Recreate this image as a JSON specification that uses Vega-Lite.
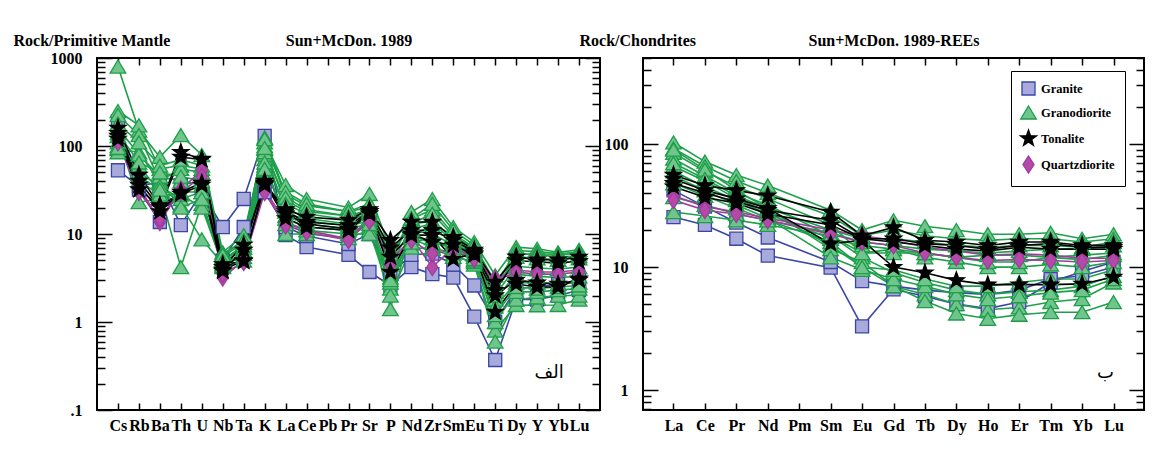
{
"$schema":"https://vega.github.io/schema/vega-lite/v6.json",
"background":"white",
"padding":{"left":12,"top":31,"right":5,"bottom":5},
"bounds":"flush",
"spacing":43,
"config":{
 "view":{"stroke":"black","strokeWidth":2},
 "font":"Liberation Serif",
 "axis":{"domain":false,"grid":false,"tickColor":"black","tickWidth":1.5,"labelFont":"Liberation Serif","labelFontWeight":"bold","labelFontSize":16,"labelColor":"black","titleFont":"Liberation Serif","titleFontWeight":"bold","titleFontSize":16,"titleColor":"black"},
 "legend":{"strokeColor":"black","padding":10,"labelFont":"Liberation Serif","labelFontWeight":"bold","labelFontSize":12.5,"labelColor":"black","symbolSize":170,"symbolStrokeWidth":1.3,"rowPadding":5,"labelOffset":5}
},
"resolve":{"scale":{"x":"independent","y":"independent","color":"independent","stroke":"independent","fill":"independent","shape":"independent"}},
"hconcat":[
{
 "width":503,"height":352,
 "data":{"name":"pm"},
 "layer":[
  {"mark":{"type":"line","strokeWidth":1.6},
   "encoding":{
    "x":{"field":"e","type":"nominal","sort":["Cs","Rb","Ba","Th","U","Nb","Ta","K","La","Ce","Pb","Pr","Sr","P","Nd","Zr","Sm","Eu","Ti","Dy","Y","Yb","Lu"],
         "scale":{"type":"point","domain":["Cs","Rb","Ba","Th","U","Nb","Ta","K","La","Ce","Pb","Pr","Sr","P","Nd","Zr","Sm","Eu","Ti","Dy","Y","Yb","Lu"],"padding":1.04},
         "axis":{"orient":"bottom","tickSize":-7,"labelPadding":14,"labelAngle":0,"labelOverlap":false,"title":null}},
    "y":{"field":"v","type":"quantitative","scale":{"type":"log","domain":[0.1,1000],"nice":false},
         "axis":{"orient":"left","values":[0.1,0.2,0.3,0.4,0.5,0.6,0.7,0.8,0.9,1,2,3,4,5,6,7,8,9,10,20,30,40,50,60,70,80,90,100,200,300,400,500,600,700,800,900,1000],
                 "tickSize":{"condition":{"test":"datum.value==0.1||datum.value==1||datum.value==10||datum.value==100||datum.value==1000","value":-15},"value":-8},
                 "labelExpr":"datum.value==1000?'1000':datum.value==100?'100':datum.value==10?'10':datum.value==1?'1':datum.value==0.1?'.1':''",
                 "labelPadding":30,"labelBaseline":"middle",
                 "title":"Rock/Primitive Mantle","titleAngle":0,"titleAlign":"left","titleBaseline":"alphabetic","titleX":-84,"titleY":-13}},
    "color":{"field":"t","type":"nominal","scale":{"domain":["Granodiorite","Granite","Tonalite","Quartzdiorite"],"range":["#1EA04A","#3A45A5","#000000","#A23B9E"]},"legend":null},
    "detail":{"field":"s"}
   }},
  {"mark":{"type":"point","filled":true,"opacity":1,"strokeWidth":1.3,"size":170},
   "encoding":{
    "x":{"field":"e","type":"nominal","axis":{"orient":"top","tickSize":-7,"labels":false,"title":"Sun+McDon. 1989","titleAngle":0,"titleAlign":"center","titleBaseline":"alphabetic","titleX":251.5,"titleY":-13}},
    "y":{"field":"v","type":"quantitative",
         "axis":{"orient":"right","values":[0.1,0.2,0.3,0.4,0.5,0.6,0.7,0.8,0.9,1,2,3,4,5,6,7,8,9,10,20,30,40,50,60,70,80,90,100,200,300,400,500,600,700,800,900,1000],
                 "tickSize":{"condition":{"test":"datum.value==0.1||datum.value==1||datum.value==10||datum.value==100||datum.value==1000","value":-15},"value":-8},
                 "labels":false,"title":null}},
    "shape":{"field":"t","type":"nominal","scale":{"domain":["Granite","Granodiorite","Tonalite","Quartzdiorite"],"range":["square","M0,-1L1.2,1L-1.2,1Z","M0,-1.3L0.31,-0.43L1.236,-0.402L0.5,0.163L0.764,1.052L0,0.53L-0.764,1.052L-0.5,0.163L-1.236,-0.402L-0.31,-0.43Z","M0,-1.3L0.85,0L0,1.3L-0.85,0Z"]},"legend":null},
    "fill":{"field":"t","type":"nominal","scale":{"domain":["Granite","Granodiorite","Tonalite","Quartzdiorite"],"range":["#A7AADB","#6FC58C","#000000","#B34AAA"]},"legend":null},
    "stroke":{"field":"t","type":"nominal","scale":{"domain":["Granite","Granodiorite","Tonalite","Quartzdiorite"],"range":["#3A45A5","#1E9E48","#000000","#A23B9E"]},"legend":null}
   }},
  {"data":{"name":"ann"},"transform":[{"filter":"datum.p=='L'"}],
   "mark":{"type":"text","font":"DejaVu Sans","fontSize":18,"dx":-9,"color":"black"},
   "encoding":{"x":{"field":"e","type":"nominal","axis":null},"y":{"field":"v","type":"quantitative","axis":null},"text":{"field":"txt"}}}
 ],
 "resolve":{"axis":{"x":"independent","y":"independent"}}
},
{
 "width":501,"height":352,
 "data":{"name":"ree"},
 "layer":[
  {"mark":{"type":"line","strokeWidth":1.6},
   "encoding":{
    "x":{"field":"e","type":"nominal","sort":["La","Ce","Pr","Nd","Pm","Sm","Eu","Gd","Tb","Dy","Ho","Er","Tm","Yb","Lu"],
         "scale":{"type":"point","domain":["La","Ce","Pr","Nd","Pm","Sm","Eu","Gd","Tb","Dy","Ho","Er","Tm","Yb","Lu"],"padding":0.97},
         "axis":{"orient":"bottom","tickSize":-7,"labelPadding":14,"labelAngle":0,"labelOverlap":false,"title":null}},
    "y":{"field":"v","type":"quantitative","scale":{"type":"log","domain":[0.69,500],"nice":false},
         "axis":{"orient":"left","values":[0.7,0.8,0.9,1,2,3,4,5,6,7,8,9,10,20,30,40,50,60,70,80,90,100,200,300,400,500],
                 "tickSize":{"condition":{"test":"datum.value==1||datum.value==10||datum.value==100","value":-15},"value":-8},
                 "labelExpr":"datum.value==100?'100':datum.value==10?'10':datum.value==1?'1':''",
                 "labelPadding":30,"labelBaseline":"middle",
                 "title":"Rock/Chondrites","titleAngle":0,"titleAlign":"left","titleBaseline":"alphabetic","titleX":-64,"titleY":-13}},
    "color":{"field":"t","type":"nominal","scale":{"domain":["Granodiorite","Granite","Tonalite","Quartzdiorite"],"range":["#1EA04A","#3A45A5","#000000","#A23B9E"]},"legend":null},
    "detail":{"field":"s"}
   }},
  {"mark":{"type":"point","filled":true,"opacity":1,"strokeWidth":1.3,"size":170},
   "encoding":{
    "x":{"field":"e","type":"nominal","axis":{"orient":"top","tickSize":-7,"labels":false,"title":"Sun+McDon. 1989-REEs","titleAngle":0,"titleAlign":"center","titleBaseline":"alphabetic","titleX":250.5,"titleY":-13}},
    "y":{"field":"v","type":"quantitative",
         "axis":{"orient":"right","values":[0.7,0.8,0.9,1,2,3,4,5,6,7,8,9,10,20,30,40,50,60,70,80,90,100,200,300,400,500],
                 "tickSize":{"condition":{"test":"datum.value==1||datum.value==10||datum.value==100","value":-15},"value":-8},
                 "labels":false,"title":null}},
    "shape":{"field":"t","type":"nominal","scale":{"domain":["Granite","Granodiorite","Tonalite","Quartzdiorite"],"range":["square","M0,-1L1.2,1L-1.2,1Z","M0,-1.3L0.31,-0.43L1.236,-0.402L0.5,0.163L0.764,1.052L0,0.53L-0.764,1.052L-0.5,0.163L-1.236,-0.402L-0.31,-0.43Z","M0,-1.3L0.85,0L0,1.3L-0.85,0Z"]},
             "legend":{"orient":"none","legendX":368,"legendY":13,"title":null,"strokeColor":"black"}},
    "fill":{"field":"t","type":"nominal","scale":{"domain":["Granite","Granodiorite","Tonalite","Quartzdiorite"],"range":["#A7AADB","#6FC58C","#000000","#B34AAA"]}},
    "stroke":{"field":"t","type":"nominal","scale":{"domain":["Granite","Granodiorite","Tonalite","Quartzdiorite"],"range":["#3A45A5","#1E9E48","#000000","#A23B9E"]}}
   }},
  {"data":{"name":"ann"},"transform":[{"filter":"datum.p=='R'"}],
   "mark":{"type":"text","font":"DejaVu Sans","fontSize":18,"dx":-8,"color":"black"},
   "encoding":{"x":{"field":"e","type":"nominal","axis":null},"y":{"field":"v","type":"quantitative","axis":null},"text":{"field":"txt"}}}
 ],
 "resolve":{"axis":{"x":"independent","y":"independent"}}
}
],
"datasets":{
"ann":[{"p":"L","e":"Yb","v":0.26,"txt":"الف"},{"p":"R","e":"Lu","v":1.38,"txt":"ب"}],
"pm":[
{"s":"1GA","t":"Granite","e":"Cs","v":53},{"s":"1GA","t":"Granite","e":"Rb","v":35},{"s":"1GA","t":"Granite","e":"Ba","v":39},{"s":"1GA","t":"Granite","e":"Th","v":12.6},{"s":"1GA","t":"Granite","e":"U","v":30},{"s":"1GA","t":"Granite","e":"Nb","v":12},{"s":"1GA","t":"Granite","e":"Ta","v":25},{"s":"1GA","t":"Granite","e":"K","v":130},{"s":"1GA","t":"Granite","e":"La","v":9.7},{"s":"1GA","t":"Granite","e":"Ce","v":7.1},{"s":"1GA","t":"Granite","e":"Pr","v":5.8},{"s":"1GA","t":"Granite","e":"Sr","v":3.7},{"s":"1GA","t":"Granite","e":"P","v":2.6},{"s":"1GA","t":"Granite","e":"Nd","v":4.2},{"s":"1GA","t":"Granite","e":"Zr","v":3.5},{"s":"1GA","t":"Granite","e":"Sm","v":3.2},{"s":"1GA","t":"Granite","e":"Eu","v":1.15},{"s":"1GA","t":"Granite","e":"Ti","v":0.37},{"s":"1GA","t":"Granite","e":"Dy","v":1.8},{"s":"1GA","t":"Granite","e":"Y","v":1.8},{"s":"1GA","t":"Granite","e":"Yb","v":2.0},{"s":"1GA","t":"Granite","e":"Lu","v":2.3},
{"s":"1GB","t":"Granite","e":"Cs","v":190},{"s":"1GB","t":"Granite","e":"Rb","v":32},{"s":"1GB","t":"Granite","e":"Ba","v":13.7},{"s":"1GB","t":"Granite","e":"Th","v":36},{"s":"1GB","t":"Granite","e":"U","v":40},{"s":"1GB","t":"Granite","e":"Nb","v":5},{"s":"1GB","t":"Granite","e":"Ta","v":12},{"s":"1GB","t":"Granite","e":"K","v":30},{"s":"1GB","t":"Granite","e":"La","v":12},{"s":"1GB","t":"Granite","e":"Ce","v":9.5},{"s":"1GB","t":"Granite","e":"Pr","v":7.7},{"s":"1GB","t":"Granite","e":"Sr","v":10},{"s":"1GB","t":"Granite","e":"P","v":3.5},{"s":"1GB","t":"Granite","e":"Nd","v":5.8},{"s":"1GB","t":"Granite","e":"Zr","v":6},{"s":"1GB","t":"Granite","e":"Sm","v":4.5},{"s":"1GB","t":"Granite","e":"Eu","v":2.6},{"s":"1GB","t":"Granite","e":"Ti","v":1.0},{"s":"1GB","t":"Granite","e":"Dy","v":2.4},{"s":"1GB","t":"Granite","e":"Y","v":2.5},{"s":"1GB","t":"Granite","e":"Yb","v":2.7},{"s":"1GB","t":"Granite","e":"Lu","v":3.0},
{"s":"2D01","t":"Granodiorite","e":"Cs","v":800},{"s":"2D01","t":"Granodiorite","e":"Rb","v":150},{"s":"2D01","t":"Granodiorite","e":"Ba","v":75},{"s":"2D01","t":"Granodiorite","e":"Th","v":133},{"s":"2D01","t":"Granodiorite","e":"U","v":79},{"s":"2D01","t":"Granodiorite","e":"Nb","v":6.2},{"s":"2D01","t":"Granodiorite","e":"Ta","v":9.7},{"s":"2D01","t":"Granodiorite","e":"K","v":110},{"s":"2D01","t":"Granodiorite","e":"La","v":36},{"s":"2D01","t":"Granodiorite","e":"Ce","v":25},{"s":"2D01","t":"Granodiorite","e":"Pr","v":20},{"s":"2D01","t":"Granodiorite","e":"Sr","v":28.5},{"s":"2D01","t":"Granodiorite","e":"P","v":6.7},{"s":"2D01","t":"Granodiorite","e":"Nd","v":17.8},{"s":"2D01","t":"Granodiorite","e":"Zr","v":25},{"s":"2D01","t":"Granodiorite","e":"Sm","v":12},{"s":"2D01","t":"Granodiorite","e":"Eu","v":8.1},{"s":"2D01","t":"Granodiorite","e":"Ti","v":3.4},{"s":"2D01","t":"Granodiorite","e":"Dy","v":7.1},{"s":"2D01","t":"Granodiorite","e":"Y","v":6.8},{"s":"2D01","t":"Granodiorite","e":"Yb","v":6.2},{"s":"2D01","t":"Granodiorite","e":"Lu","v":6.6},
{"s":"2D02","t":"Granodiorite","e":"Cs","v":250},{"s":"2D02","t":"Granodiorite","e":"Rb","v":172},{"s":"2D02","t":"Granodiorite","e":"Ba","v":55},{"s":"2D02","t":"Granodiorite","e":"Th","v":60},{"s":"2D02","t":"Granodiorite","e":"U","v":55},{"s":"2D02","t":"Granodiorite","e":"Nb","v":5.5},{"s":"2D02","t":"Granodiorite","e":"Ta","v":8},{"s":"2D02","t":"Granodiorite","e":"K","v":125},{"s":"2D02","t":"Granodiorite","e":"La","v":28},{"s":"2D02","t":"Granodiorite","e":"Ce","v":21},{"s":"2D02","t":"Granodiorite","e":"Pr","v":18},{"s":"2D02","t":"Granodiorite","e":"Sr","v":20},{"s":"2D02","t":"Granodiorite","e":"P","v":4.8},{"s":"2D02","t":"Granodiorite","e":"Nd","v":14.8},{"s":"2D02","t":"Granodiorite","e":"Zr","v":19},{"s":"2D02","t":"Granodiorite","e":"Sm","v":10},{"s":"2D02","t":"Granodiorite","e":"Eu","v":7},{"s":"2D02","t":"Granodiorite","e":"Ti","v":2.5},{"s":"2D02","t":"Granodiorite","e":"Dy","v":6.5},{"s":"2D02","t":"Granodiorite","e":"Y","v":6.3},{"s":"2D02","t":"Granodiorite","e":"Yb","v":6},{"s":"2D02","t":"Granodiorite","e":"Lu","v":6.2},
{"s":"2D03","t":"Granodiorite","e":"Cs","v":225},{"s":"2D03","t":"Granodiorite","e":"Rb","v":133},{"s":"2D03","t":"Granodiorite","e":"Ba","v":40},{"s":"2D03","t":"Granodiorite","e":"Th","v":55},{"s":"2D03","t":"Granodiorite","e":"U","v":50},{"s":"2D03","t":"Granodiorite","e":"Nb","v":5},{"s":"2D03","t":"Granodiorite","e":"Ta","v":7},{"s":"2D03","t":"Granodiorite","e":"K","v":92},{"s":"2D03","t":"Granodiorite","e":"La","v":24},{"s":"2D03","t":"Granodiorite","e":"Ce","v":18},{"s":"2D03","t":"Granodiorite","e":"Pr","v":16},{"s":"2D03","t":"Granodiorite","e":"Sr","v":18},{"s":"2D03","t":"Granodiorite","e":"P","v":1.4},{"s":"2D03","t":"Granodiorite","e":"Nd","v":13},{"s":"2D03","t":"Granodiorite","e":"Zr","v":14},{"s":"2D03","t":"Granodiorite","e":"Sm","v":9},{"s":"2D03","t":"Granodiorite","e":"Eu","v":6.5},{"s":"2D03","t":"Granodiorite","e":"Ti","v":2.2},{"s":"2D03","t":"Granodiorite","e":"Dy","v":5.8},{"s":"2D03","t":"Granodiorite","e":"Y","v":6},{"s":"2D03","t":"Granodiorite","e":"Yb","v":5.8},{"s":"2D03","t":"Granodiorite","e":"Lu","v":6},
{"s":"2D04","t":"Granodiorite","e":"Cs","v":92},{"s":"2D04","t":"Granodiorite","e":"Rb","v":85},{"s":"2D04","t":"Granodiorite","e":"Ba","v":38},{"s":"2D04","t":"Granodiorite","e":"Th","v":21},{"s":"2D04","t":"Granodiorite","e":"U","v":8.7},{"s":"2D04","t":"Granodiorite","e":"Nb","v":4.6},{"s":"2D04","t":"Granodiorite","e":"Ta","v":6},{"s":"2D04","t":"Granodiorite","e":"K","v":71},{"s":"2D04","t":"Granodiorite","e":"La","v":20},{"s":"2D04","t":"Granodiorite","e":"Ce","v":15},{"s":"2D04","t":"Granodiorite","e":"Pr","v":13},{"s":"2D04","t":"Granodiorite","e":"Sr","v":15},{"s":"2D04","t":"Granodiorite","e":"P","v":2.4},{"s":"2D04","t":"Granodiorite","e":"Nd","v":11},{"s":"2D04","t":"Granodiorite","e":"Zr","v":10},{"s":"2D04","t":"Granodiorite","e":"Sm","v":7.5},{"s":"2D04","t":"Granodiorite","e":"Eu","v":5.5},{"s":"2D04","t":"Granodiorite","e":"Ti","v":1.8},{"s":"2D04","t":"Granodiorite","e":"Dy","v":3.5},{"s":"2D04","t":"Granodiorite","e":"Y","v":3.3},{"s":"2D04","t":"Granodiorite","e":"Yb","v":3.2},{"s":"2D04","t":"Granodiorite","e":"Lu","v":3.3},
{"s":"2D05","t":"Granodiorite","e":"Cs","v":85},{"s":"2D05","t":"Granodiorite","e":"Rb","v":60},{"s":"2D05","t":"Granodiorite","e":"Ba","v":30},{"s":"2D05","t":"Granodiorite","e":"Th","v":4.2},{"s":"2D05","t":"Granodiorite","e":"U","v":22},{"s":"2D05","t":"Granodiorite","e":"Nb","v":4.2},{"s":"2D05","t":"Granodiorite","e":"Ta","v":5},{"s":"2D05","t":"Granodiorite","e":"K","v":60},{"s":"2D05","t":"Granodiorite","e":"La","v":15},{"s":"2D05","t":"Granodiorite","e":"Ce","v":12},{"s":"2D05","t":"Granodiorite","e":"Pr","v":11},{"s":"2D05","t":"Granodiorite","e":"Sr","v":12},{"s":"2D05","t":"Granodiorite","e":"P","v":3.2},{"s":"2D05","t":"Granodiorite","e":"Nd","v":9},{"s":"2D05","t":"Granodiorite","e":"Zr","v":7},{"s":"2D05","t":"Granodiorite","e":"Sm","v":6},{"s":"2D05","t":"Granodiorite","e":"Eu","v":4.5},{"s":"2D05","t":"Granodiorite","e":"Ti","v":0.8},{"s":"2D05","t":"Granodiorite","e":"Dy","v":1.56},{"s":"2D05","t":"Granodiorite","e":"Y","v":1.55},{"s":"2D05","t":"Granodiorite","e":"Yb","v":1.56},{"s":"2D05","t":"Granodiorite","e":"Lu","v":1.8},
{"s":"2D06","t":"Granodiorite","e":"Cs","v":130},{"s":"2D06","t":"Granodiorite","e":"Rb","v":23},{"s":"2D06","t":"Granodiorite","e":"Ba","v":25},{"s":"2D06","t":"Granodiorite","e":"Th","v":30},{"s":"2D06","t":"Granodiorite","e":"U","v":30},{"s":"2D06","t":"Granodiorite","e":"Nb","v":4.8},{"s":"2D06","t":"Granodiorite","e":"Ta","v":6.5},{"s":"2D06","t":"Granodiorite","e":"K","v":80},{"s":"2D06","t":"Granodiorite","e":"La","v":10},{"s":"2D06","t":"Granodiorite","e":"Ce","v":10},{"s":"2D06","t":"Granodiorite","e":"Pr","v":9},{"s":"2D06","t":"Granodiorite","e":"Sr","v":11},{"s":"2D06","t":"Granodiorite","e":"P","v":2.0},{"s":"2D06","t":"Granodiorite","e":"Nd","v":7},{"s":"2D06","t":"Granodiorite","e":"Zr","v":6.8},{"s":"2D06","t":"Granodiorite","e":"Sm","v":5.5},{"s":"2D06","t":"Granodiorite","e":"Eu","v":4.8},{"s":"2D06","t":"Granodiorite","e":"Ti","v":0.6},{"s":"2D06","t":"Granodiorite","e":"Dy","v":1.8},{"s":"2D06","t":"Granodiorite","e":"Y","v":1.9},{"s":"2D06","t":"Granodiorite","e":"Yb","v":2.0},{"s":"2D06","t":"Granodiorite","e":"Lu","v":2.0},
{"s":"2D07","t":"Granodiorite","e":"Cs","v":160},{"s":"2D07","t":"Granodiorite","e":"Rb","v":80},{"s":"2D07","t":"Granodiorite","e":"Ba","v":45},{"s":"2D07","t":"Granodiorite","e":"Th","v":40},{"s":"2D07","t":"Granodiorite","e":"U","v":36},{"s":"2D07","t":"Granodiorite","e":"Nb","v":6},{"s":"2D07","t":"Granodiorite","e":"Ta","v":8},{"s":"2D07","t":"Granodiorite","e":"K","v":100},{"s":"2D07","t":"Granodiorite","e":"La","v":30},{"s":"2D07","t":"Granodiorite","e":"Ce","v":22},{"s":"2D07","t":"Granodiorite","e":"Pr","v":18},{"s":"2D07","t":"Granodiorite","e":"Sr","v":22},{"s":"2D07","t":"Granodiorite","e":"P","v":5.5},{"s":"2D07","t":"Granodiorite","e":"Nd","v":15},{"s":"2D07","t":"Granodiorite","e":"Zr","v":22},{"s":"2D07","t":"Granodiorite","e":"Sm","v":11},{"s":"2D07","t":"Granodiorite","e":"Eu","v":7.5},{"s":"2D07","t":"Granodiorite","e":"Ti","v":2.8},{"s":"2D07","t":"Granodiorite","e":"Dy","v":6},{"s":"2D07","t":"Granodiorite","e":"Y","v":5.8},{"s":"2D07","t":"Granodiorite","e":"Yb","v":5.5},{"s":"2D07","t":"Granodiorite","e":"Lu","v":5.6},
{"s":"2D08","t":"Granodiorite","e":"Cs","v":110},{"s":"2D08","t":"Granodiorite","e":"Rb","v":50},{"s":"2D08","t":"Granodiorite","e":"Ba","v":35},{"s":"2D08","t":"Granodiorite","e":"Th","v":25},{"s":"2D08","t":"Granodiorite","e":"U","v":30},{"s":"2D08","t":"Granodiorite","e":"Nb","v":5.2},{"s":"2D08","t":"Granodiorite","e":"Ta","v":7},{"s":"2D08","t":"Granodiorite","e":"K","v":85},{"s":"2D08","t":"Granodiorite","e":"La","v":18},{"s":"2D08","t":"Granodiorite","e":"Ce","v":14},{"s":"2D08","t":"Granodiorite","e":"Pr","v":12.5},{"s":"2D08","t":"Granodiorite","e":"Sr","v":14},{"s":"2D08","t":"Granodiorite","e":"P","v":3.5},{"s":"2D08","t":"Granodiorite","e":"Nd","v":10},{"s":"2D08","t":"Granodiorite","e":"Zr","v":12},{"s":"2D08","t":"Granodiorite","e":"Sm","v":8},{"s":"2D08","t":"Granodiorite","e":"Eu","v":5.8},{"s":"2D08","t":"Granodiorite","e":"Ti","v":1.5},{"s":"2D08","t":"Granodiorite","e":"Dy","v":2.8},{"s":"2D08","t":"Granodiorite","e":"Y","v":2.8},{"s":"2D08","t":"Granodiorite","e":"Yb","v":2.7},{"s":"2D08","t":"Granodiorite","e":"Lu","v":2.8},
{"s":"2D09","t":"Granodiorite","e":"Cs","v":100},{"s":"2D09","t":"Granodiorite","e":"Rb","v":40},{"s":"2D09","t":"Granodiorite","e":"Ba","v":28},{"s":"2D09","t":"Granodiorite","e":"Th","v":28},{"s":"2D09","t":"Granodiorite","e":"U","v":20},{"s":"2D09","t":"Granodiorite","e":"Nb","v":4.5},{"s":"2D09","t":"Granodiorite","e":"Ta","v":5.5},{"s":"2D09","t":"Granodiorite","e":"K","v":65},{"s":"2D09","t":"Granodiorite","e":"La","v":13},{"s":"2D09","t":"Granodiorite","e":"Ce","v":11},{"s":"2D09","t":"Granodiorite","e":"Pr","v":10},{"s":"2D09","t":"Granodiorite","e":"Sr","v":10},{"s":"2D09","t":"Granodiorite","e":"P","v":2.8},{"s":"2D09","t":"Granodiorite","e":"Nd","v":8},{"s":"2D09","t":"Granodiorite","e":"Zr","v":9},{"s":"2D09","t":"Granodiorite","e":"Sm","v":6.5},{"s":"2D09","t":"Granodiorite","e":"Eu","v":5},{"s":"2D09","t":"Granodiorite","e":"Ti","v":1.0},{"s":"2D09","t":"Granodiorite","e":"Dy","v":2.2},{"s":"2D09","t":"Granodiorite","e":"Y","v":2.2},{"s":"2D09","t":"Granodiorite","e":"Yb","v":2.3},{"s":"2D09","t":"Granodiorite","e":"Lu","v":2.4},
{"s":"2D10","t":"Granodiorite","e":"Cs","v":180},{"s":"2D10","t":"Granodiorite","e":"Rb","v":110},{"s":"2D10","t":"Granodiorite","e":"Ba","v":60},{"s":"2D10","t":"Granodiorite","e":"Th","v":70},{"s":"2D10","t":"Granodiorite","e":"U","v":60},{"s":"2D10","t":"Granodiorite","e":"Nb","v":5.8},{"s":"2D10","t":"Granodiorite","e":"Ta","v":8.5},{"s":"2D10","t":"Granodiorite","e":"K","v":120},{"s":"2D10","t":"Granodiorite","e":"La","v":26},{"s":"2D10","t":"Granodiorite","e":"Ce","v":19},{"s":"2D10","t":"Granodiorite","e":"Pr","v":16},{"s":"2D10","t":"Granodiorite","e":"Sr","v":19},{"s":"2D10","t":"Granodiorite","e":"P","v":6},{"s":"2D10","t":"Granodiorite","e":"Nd","v":13},{"s":"2D10","t":"Granodiorite","e":"Zr","v":17},{"s":"2D10","t":"Granodiorite","e":"Sm","v":9.5},{"s":"2D10","t":"Granodiorite","e":"Eu","v":6.8},{"s":"2D10","t":"Granodiorite","e":"Ti","v":2.4},{"s":"2D10","t":"Granodiorite","e":"Dy","v":5.5},{"s":"2D10","t":"Granodiorite","e":"Y","v":5.3},{"s":"2D10","t":"Granodiorite","e":"Yb","v":5.1},{"s":"2D10","t":"Granodiorite","e":"Lu","v":5.3},
{"s":"2D11","t":"Granodiorite","e":"Cs","v":140},{"s":"2D11","t":"Granodiorite","e":"Rb","v":65},{"s":"2D11","t":"Granodiorite","e":"Ba","v":50},{"s":"2D11","t":"Granodiorite","e":"Th","v":45},{"s":"2D11","t":"Granodiorite","e":"U","v":40},{"s":"2D11","t":"Granodiorite","e":"Nb","v":5},{"s":"2D11","t":"Granodiorite","e":"Ta","v":7.5},{"s":"2D11","t":"Granodiorite","e":"K","v":95},{"s":"2D11","t":"Granodiorite","e":"La","v":22},{"s":"2D11","t":"Granodiorite","e":"Ce","v":17},{"s":"2D11","t":"Granodiorite","e":"Pr","v":14.5},{"s":"2D11","t":"Granodiorite","e":"Sr","v":17},{"s":"2D11","t":"Granodiorite","e":"P","v":4.5},{"s":"2D11","t":"Granodiorite","e":"Nd","v":11.5},{"s":"2D11","t":"Granodiorite","e":"Zr","v":13},{"s":"2D11","t":"Granodiorite","e":"Sm","v":8.5},{"s":"2D11","t":"Granodiorite","e":"Eu","v":6},{"s":"2D11","t":"Granodiorite","e":"Ti","v":2.0},{"s":"2D11","t":"Granodiorite","e":"Dy","v":4.3},{"s":"2D11","t":"Granodiorite","e":"Y","v":4.1},{"s":"2D11","t":"Granodiorite","e":"Yb","v":4},{"s":"2D11","t":"Granodiorite","e":"Lu","v":4.2},
{"s":"2D12","t":"Granodiorite","e":"Cs","v":95},{"s":"2D12","t":"Granodiorite","e":"Rb","v":45},{"s":"2D12","t":"Granodiorite","e":"Ba","v":32},{"s":"2D12","t":"Granodiorite","e":"Th","v":20},{"s":"2D12","t":"Granodiorite","e":"U","v":25},{"s":"2D12","t":"Granodiorite","e":"Nb","v":4.3},{"s":"2D12","t":"Granodiorite","e":"Ta","v":6},{"s":"2D12","t":"Granodiorite","e":"K","v":55},{"s":"2D12","t":"Granodiorite","e":"La","v":16},{"s":"2D12","t":"Granodiorite","e":"Ce","v":13},{"s":"2D12","t":"Granodiorite","e":"Pr","v":11.5},{"s":"2D12","t":"Granodiorite","e":"Sr","v":13},{"s":"2D12","t":"Granodiorite","e":"P","v":3.0},{"s":"2D12","t":"Granodiorite","e":"Nd","v":9.5},{"s":"2D12","t":"Granodiorite","e":"Zr","v":8},{"s":"2D12","t":"Granodiorite","e":"Sm","v":7},{"s":"2D12","t":"Granodiorite","e":"Eu","v":5.2},{"s":"2D12","t":"Granodiorite","e":"Ti","v":1.2},{"s":"2D12","t":"Granodiorite","e":"Dy","v":2.5},{"s":"2D12","t":"Granodiorite","e":"Y","v":2.4},{"s":"2D12","t":"Granodiorite","e":"Yb","v":2.5},{"s":"2D12","t":"Granodiorite","e":"Lu","v":2.6},
{"s":"3Q1","t":"Quartzdiorite","e":"Cs","v":120},{"s":"3Q1","t":"Quartzdiorite","e":"Rb","v":35},{"s":"3Q1","t":"Quartzdiorite","e":"Ba","v":13.7},{"s":"3Q1","t":"Quartzdiorite","e":"Th","v":32},{"s":"3Q1","t":"Quartzdiorite","e":"U","v":53},{"s":"3Q1","t":"Quartzdiorite","e":"Nb","v":3.2},{"s":"3Q1","t":"Quartzdiorite","e":"Ta","v":5},{"s":"3Q1","t":"Quartzdiorite","e":"K","v":32},{"s":"3Q1","t":"Quartzdiorite","e":"La","v":13.7},{"s":"3Q1","t":"Quartzdiorite","e":"Ce","v":11},{"s":"3Q1","t":"Quartzdiorite","e":"Pr","v":8.8},{"s":"3Q1","t":"Quartzdiorite","e":"Sr","v":15},{"s":"3Q1","t":"Quartzdiorite","e":"P","v":4.8},{"s":"3Q1","t":"Quartzdiorite","e":"Nd","v":9},{"s":"3Q1","t":"Quartzdiorite","e":"Zr","v":4.2},{"s":"3Q1","t":"Quartzdiorite","e":"Sm","v":7},{"s":"3Q1","t":"Quartzdiorite","e":"Eu","v":5.5},{"s":"3Q1","t":"Quartzdiorite","e":"Ti","v":3.1},{"s":"3Q1","t":"Quartzdiorite","e":"Dy","v":3.9},{"s":"3Q1","t":"Quartzdiorite","e":"Y","v":3.7},{"s":"3Q1","t":"Quartzdiorite","e":"Yb","v":3.7},{"s":"3Q1","t":"Quartzdiorite","e":"Lu","v":3.9},
{"s":"3Q2","t":"Quartzdiorite","e":"Cs","v":110},{"s":"3Q2","t":"Quartzdiorite","e":"Rb","v":30},{"s":"3Q2","t":"Quartzdiorite","e":"Ba","v":15},{"s":"3Q2","t":"Quartzdiorite","e":"Th","v":30},{"s":"3Q2","t":"Quartzdiorite","e":"U","v":45},{"s":"3Q2","t":"Quartzdiorite","e":"Nb","v":3.5},{"s":"3Q2","t":"Quartzdiorite","e":"Ta","v":4.8},{"s":"3Q2","t":"Quartzdiorite","e":"K","v":30},{"s":"3Q2","t":"Quartzdiorite","e":"La","v":12.5},{"s":"3Q2","t":"Quartzdiorite","e":"Ce","v":10.5},{"s":"3Q2","t":"Quartzdiorite","e":"Pr","v":8.5},{"s":"3Q2","t":"Quartzdiorite","e":"Sr","v":14},{"s":"3Q2","t":"Quartzdiorite","e":"P","v":4.5},{"s":"3Q2","t":"Quartzdiorite","e":"Nd","v":8.5},{"s":"3Q2","t":"Quartzdiorite","e":"Zr","v":6},{"s":"3Q2","t":"Quartzdiorite","e":"Sm","v":6.5},{"s":"3Q2","t":"Quartzdiorite","e":"Eu","v":5.2},{"s":"3Q2","t":"Quartzdiorite","e":"Ti","v":2.9},{"s":"3Q2","t":"Quartzdiorite","e":"Dy","v":3.7},{"s":"3Q2","t":"Quartzdiorite","e":"Y","v":3.5},{"s":"3Q2","t":"Quartzdiorite","e":"Yb","v":3.5},{"s":"3Q2","t":"Quartzdiorite","e":"Lu","v":3.7},
{"s":"4T1","t":"Tonalite","e":"Cs","v":160},{"s":"4T1","t":"Tonalite","e":"Rb","v":47},{"s":"4T1","t":"Tonalite","e":"Ba","v":21},{"s":"4T1","t":"Tonalite","e":"Th","v":85},{"s":"4T1","t":"Tonalite","e":"U","v":71},{"s":"4T1","t":"Tonalite","e":"Nb","v":3.9},{"s":"4T1","t":"Tonalite","e":"Ta","v":5},{"s":"4T1","t":"Tonalite","e":"K","v":37},{"s":"4T1","t":"Tonalite","e":"La","v":19},{"s":"4T1","t":"Tonalite","e":"Ce","v":15.6},{"s":"4T1","t":"Tonalite","e":"Pr","v":14.4},{"s":"4T1","t":"Tonalite","e":"Sr","v":19},{"s":"4T1","t":"Tonalite","e":"P","v":8.5},{"s":"4T1","t":"Tonalite","e":"Nd","v":13.7},{"s":"4T1","t":"Tonalite","e":"Zr","v":13.7},{"s":"4T1","t":"Tonalite","e":"Sm","v":9.2},{"s":"4T1","t":"Tonalite","e":"Eu","v":6.6},{"s":"4T1","t":"Tonalite","e":"Ti","v":2.85},{"s":"4T1","t":"Tonalite","e":"Dy","v":5.5},{"s":"4T1","t":"Tonalite","e":"Y","v":5.1},{"s":"4T1","t":"Tonalite","e":"Yb","v":5.1},{"s":"4T1","t":"Tonalite","e":"Lu","v":5.5},
{"s":"4T2","t":"Tonalite","e":"Cs","v":140},{"s":"4T2","t":"Tonalite","e":"Rb","v":40},{"s":"4T2","t":"Tonalite","e":"Ba","v":20},{"s":"4T2","t":"Tonalite","e":"Th","v":75},{"s":"4T2","t":"Tonalite","e":"U","v":70},{"s":"4T2","t":"Tonalite","e":"Nb","v":4.5},{"s":"4T2","t":"Tonalite","e":"Ta","v":4.9},{"s":"4T2","t":"Tonalite","e":"K","v":36},{"s":"4T2","t":"Tonalite","e":"La","v":18},{"s":"4T2","t":"Tonalite","e":"Ce","v":13.7},{"s":"4T2","t":"Tonalite","e":"Pr","v":12.5},{"s":"4T2","t":"Tonalite","e":"Sr","v":18},{"s":"4T2","t":"Tonalite","e":"P","v":7},{"s":"4T2","t":"Tonalite","e":"Nd","v":11},{"s":"4T2","t":"Tonalite","e":"Zr","v":11},{"s":"4T2","t":"Tonalite","e":"Sm","v":8.5},{"s":"4T2","t":"Tonalite","e":"Eu","v":6.3},{"s":"4T2","t":"Tonalite","e":"Ti","v":2.3},{"s":"4T2","t":"Tonalite","e":"Dy","v":5.0},{"s":"4T2","t":"Tonalite","e":"Y","v":4.8},{"s":"4T2","t":"Tonalite","e":"Yb","v":4.7},{"s":"4T2","t":"Tonalite","e":"Lu","v":4.9},
{"s":"4T3","t":"Tonalite","e":"Cs","v":120},{"s":"4T3","t":"Tonalite","e":"Rb","v":32},{"s":"4T3","t":"Tonalite","e":"Ba","v":21},{"s":"4T3","t":"Tonalite","e":"Th","v":28.5},{"s":"4T3","t":"Tonalite","e":"U","v":36},{"s":"4T3","t":"Tonalite","e":"Nb","v":3.8},{"s":"4T3","t":"Tonalite","e":"Ta","v":6.6},{"s":"4T3","t":"Tonalite","e":"K","v":40},{"s":"4T3","t":"Tonalite","e":"La","v":17},{"s":"4T3","t":"Tonalite","e":"Ce","v":13},{"s":"4T3","t":"Tonalite","e":"Pr","v":11.4},{"s":"4T3","t":"Tonalite","e":"Sr","v":18},{"s":"4T3","t":"Tonalite","e":"P","v":3.7},{"s":"4T3","t":"Tonalite","e":"Nd","v":9.7},{"s":"4T3","t":"Tonalite","e":"Zr","v":9.7},{"s":"4T3","t":"Tonalite","e":"Sm","v":5.2},{"s":"4T3","t":"Tonalite","e":"Eu","v":6},{"s":"4T3","t":"Tonalite","e":"Ti","v":1.3},{"s":"4T3","t":"Tonalite","e":"Dy","v":2.7},{"s":"4T3","t":"Tonalite","e":"Y","v":2.5},{"s":"4T3","t":"Tonalite","e":"Yb","v":2.5},{"s":"4T3","t":"Tonalite","e":"Lu","v":3.1},
{"s":"4T4","t":"Tonalite","e":"Cs","v":130},{"s":"4T4","t":"Tonalite","e":"Rb","v":36},{"s":"4T4","t":"Tonalite","e":"Ba","v":18},{"s":"4T4","t":"Tonalite","e":"Th","v":30},{"s":"4T4","t":"Tonalite","e":"U","v":38},{"s":"4T4","t":"Tonalite","e":"Nb","v":4.2},{"s":"4T4","t":"Tonalite","e":"Ta","v":7.5},{"s":"4T4","t":"Tonalite","e":"K","v":38},{"s":"4T4","t":"Tonalite","e":"La","v":15},{"s":"4T4","t":"Tonalite","e":"Ce","v":12},{"s":"4T4","t":"Tonalite","e":"Pr","v":11},{"s":"4T4","t":"Tonalite","e":"Sr","v":17},{"s":"4T4","t":"Tonalite","e":"P","v":5.5},{"s":"4T4","t":"Tonalite","e":"Nd","v":10},{"s":"4T4","t":"Tonalite","e":"Zr","v":8.1},{"s":"4T4","t":"Tonalite","e":"Sm","v":7.5},{"s":"4T4","t":"Tonalite","e":"Eu","v":5.8},{"s":"4T4","t":"Tonalite","e":"Ti","v":2.0},{"s":"4T4","t":"Tonalite","e":"Dy","v":3.0},{"s":"4T4","t":"Tonalite","e":"Y","v":2.8},{"s":"4T4","t":"Tonalite","e":"Yb","v":2.7},{"s":"4T4","t":"Tonalite","e":"Lu","v":3.0}
],
"ree":[
{"s":"1GA","t":"Granite","e":"La","v":25.5},{"s":"1GA","t":"Granite","e":"Ce","v":22},{"s":"1GA","t":"Granite","e":"Pr","v":17},{"s":"1GA","t":"Granite","e":"Nd","v":12.4},{"s":"1GA","t":"Granite","e":"Sm","v":9.9},{"s":"1GA","t":"Granite","e":"Eu","v":3.3},{"s":"1GA","t":"Granite","e":"Gd","v":6.6},{"s":"1GA","t":"Granite","e":"Tb","v":5.8},{"s":"1GA","t":"Granite","e":"Dy","v":5.0},{"s":"1GA","t":"Granite","e":"Ho","v":4.6},{"s":"1GA","t":"Granite","e":"Er","v":5.2},{"s":"1GA","t":"Granite","e":"Tm","v":7.5},{"s":"1GA","t":"Granite","e":"Yb","v":9.2},{"s":"1GA","t":"Granite","e":"Lu","v":11},
{"s":"1GB","t":"Granite","e":"La","v":42},{"s":"1GB","t":"Granite","e":"Ce","v":31},{"s":"1GB","t":"Granite","e":"Pr","v":23},{"s":"1GB","t":"Granite","e":"Nd","v":17.4},{"s":"1GB","t":"Granite","e":"Sm","v":11},{"s":"1GB","t":"Granite","e":"Eu","v":7.7},{"s":"1GB","t":"Granite","e":"Gd","v":7},{"s":"1GB","t":"Granite","e":"Tb","v":6.5},{"s":"1GB","t":"Granite","e":"Dy","v":6.2},{"s":"1GB","t":"Granite","e":"Ho","v":6},{"s":"1GB","t":"Granite","e":"Er","v":6.5},{"s":"1GB","t":"Granite","e":"Tm","v":8},{"s":"1GB","t":"Granite","e":"Yb","v":8.5},{"s":"1GB","t":"Granite","e":"Lu","v":10},
{"s":"2D01","t":"Granodiorite","e":"La","v":103},{"s":"2D01","t":"Granodiorite","e":"Ce","v":72},{"s":"2D01","t":"Granodiorite","e":"Pr","v":56},{"s":"2D01","t":"Granodiorite","e":"Nd","v":46},{"s":"2D01","t":"Granodiorite","e":"Sm","v":29},{"s":"2D01","t":"Granodiorite","e":"Eu","v":20},{"s":"2D01","t":"Granodiorite","e":"Gd","v":24},{"s":"2D01","t":"Granodiorite","e":"Tb","v":21.5},{"s":"2D01","t":"Granodiorite","e":"Dy","v":20},{"s":"2D01","t":"Granodiorite","e":"Ho","v":18.5},{"s":"2D01","t":"Granodiorite","e":"Er","v":18.5},{"s":"2D01","t":"Granodiorite","e":"Tm","v":19},{"s":"2D01","t":"Granodiorite","e":"Yb","v":17},{"s":"2D01","t":"Granodiorite","e":"Lu","v":18.5},
{"s":"2D02","t":"Granodiorite","e":"La","v":92},{"s":"2D02","t":"Granodiorite","e":"Ce","v":66},{"s":"2D02","t":"Granodiorite","e":"Pr","v":50},{"s":"2D02","t":"Granodiorite","e":"Nd","v":40},{"s":"2D02","t":"Granodiorite","e":"Sm","v":26},{"s":"2D02","t":"Granodiorite","e":"Eu","v":18},{"s":"2D02","t":"Granodiorite","e":"Gd","v":20},{"s":"2D02","t":"Granodiorite","e":"Tb","v":18},{"s":"2D02","t":"Granodiorite","e":"Dy","v":17},{"s":"2D02","t":"Granodiorite","e":"Ho","v":16.5},{"s":"2D02","t":"Granodiorite","e":"Er","v":17},{"s":"2D02","t":"Granodiorite","e":"Tm","v":17},{"s":"2D02","t":"Granodiorite","e":"Yb","v":16},{"s":"2D02","t":"Granodiorite","e":"Lu","v":17},
{"s":"2D03","t":"Granodiorite","e":"La","v":85},{"s":"2D03","t":"Granodiorite","e":"Ce","v":60},{"s":"2D03","t":"Granodiorite","e":"Pr","v":45},{"s":"2D03","t":"Granodiorite","e":"Nd","v":36},{"s":"2D03","t":"Granodiorite","e":"Sm","v":22},{"s":"2D03","t":"Granodiorite","e":"Eu","v":13},{"s":"2D03","t":"Granodiorite","e":"Gd","v":14},{"s":"2D03","t":"Granodiorite","e":"Tb","v":12},{"s":"2D03","t":"Granodiorite","e":"Dy","v":11},{"s":"2D03","t":"Granodiorite","e":"Ho","v":10},{"s":"2D03","t":"Granodiorite","e":"Er","v":10},{"s":"2D03","t":"Granodiorite","e":"Tm","v":10.5},{"s":"2D03","t":"Granodiorite","e":"Yb","v":10},{"s":"2D03","t":"Granodiorite","e":"Lu","v":11},
{"s":"2D04","t":"Granodiorite","e":"La","v":76},{"s":"2D04","t":"Granodiorite","e":"Ce","v":55},{"s":"2D04","t":"Granodiorite","e":"Pr","v":40},{"s":"2D04","t":"Granodiorite","e":"Nd","v":32},{"s":"2D04","t":"Granodiorite","e":"Sm","v":18},{"s":"2D04","t":"Granodiorite","e":"Eu","v":12},{"s":"2D04","t":"Granodiorite","e":"Gd","v":9},{"s":"2D04","t":"Granodiorite","e":"Tb","v":7.5},{"s":"2D04","t":"Granodiorite","e":"Dy","v":6.5},{"s":"2D04","t":"Granodiorite","e":"Ho","v":6},{"s":"2D04","t":"Granodiorite","e":"Er","v":6.3},{"s":"2D04","t":"Granodiorite","e":"Tm","v":6.5},{"s":"2D04","t":"Granodiorite","e":"Yb","v":7},{"s":"2D04","t":"Granodiorite","e":"Lu","v":8.5},
{"s":"2D05","t":"Granodiorite","e":"La","v":66},{"s":"2D05","t":"Granodiorite","e":"Ce","v":50},{"s":"2D05","t":"Granodiorite","e":"Pr","v":36},{"s":"2D05","t":"Granodiorite","e":"Nd","v":28},{"s":"2D05","t":"Granodiorite","e":"Sm","v":15},{"s":"2D05","t":"Granodiorite","e":"Eu","v":10},{"s":"2D05","t":"Granodiorite","e":"Gd","v":7},{"s":"2D05","t":"Granodiorite","e":"Tb","v":6},{"s":"2D05","t":"Granodiorite","e":"Dy","v":5},{"s":"2D05","t":"Granodiorite","e":"Ho","v":4.5},{"s":"2D05","t":"Granodiorite","e":"Er","v":4.7},{"s":"2D05","t":"Granodiorite","e":"Tm","v":5.2},{"s":"2D05","t":"Granodiorite","e":"Yb","v":5.5},{"s":"2D05","t":"Granodiorite","e":"Lu","v":7.5},
{"s":"2D06","t":"Granodiorite","e":"La","v":90},{"s":"2D06","t":"Granodiorite","e":"Ce","v":62},{"s":"2D06","t":"Granodiorite","e":"Pr","v":42},{"s":"2D06","t":"Granodiorite","e":"Nd","v":30},{"s":"2D06","t":"Granodiorite","e":"Sm","v":14},{"s":"2D06","t":"Granodiorite","e":"Eu","v":11},{"s":"2D06","t":"Granodiorite","e":"Gd","v":7},{"s":"2D06","t":"Granodiorite","e":"Tb","v":5.3},{"s":"2D06","t":"Granodiorite","e":"Dy","v":4.2},{"s":"2D06","t":"Granodiorite","e":"Ho","v":3.8},{"s":"2D06","t":"Granodiorite","e":"Er","v":4.1},{"s":"2D06","t":"Granodiorite","e":"Tm","v":4.3},{"s":"2D06","t":"Granodiorite","e":"Yb","v":4.3},{"s":"2D06","t":"Granodiorite","e":"Lu","v":5.2},
{"s":"2D07","t":"Granodiorite","e":"La","v":60},{"s":"2D07","t":"Granodiorite","e":"Ce","v":45},{"s":"2D07","t":"Granodiorite","e":"Pr","v":35},{"s":"2D07","t":"Granodiorite","e":"Nd","v":27},{"s":"2D07","t":"Granodiorite","e":"Sm","v":17},{"s":"2D07","t":"Granodiorite","e":"Eu","v":15},{"s":"2D07","t":"Granodiorite","e":"Gd","v":14},{"s":"2D07","t":"Granodiorite","e":"Tb","v":13},{"s":"2D07","t":"Granodiorite","e":"Dy","v":12},{"s":"2D07","t":"Granodiorite","e":"Ho","v":12.5},{"s":"2D07","t":"Granodiorite","e":"Er","v":12.5},{"s":"2D07","t":"Granodiorite","e":"Tm","v":12},{"s":"2D07","t":"Granodiorite","e":"Yb","v":12.5},{"s":"2D07","t":"Granodiorite","e":"Lu","v":13},
{"s":"2D08","t":"Granodiorite","e":"La","v":37},{"s":"2D08","t":"Granodiorite","e":"Ce","v":32},{"s":"2D08","t":"Granodiorite","e":"Pr","v":27},{"s":"2D08","t":"Granodiorite","e":"Nd","v":24},{"s":"2D08","t":"Granodiorite","e":"Sm","v":19},{"s":"2D08","t":"Granodiorite","e":"Eu","v":16},{"s":"2D08","t":"Granodiorite","e":"Gd","v":15},{"s":"2D08","t":"Granodiorite","e":"Tb","v":14},{"s":"2D08","t":"Granodiorite","e":"Dy","v":13.5},{"s":"2D08","t":"Granodiorite","e":"Ho","v":13},{"s":"2D08","t":"Granodiorite","e":"Er","v":13.5},{"s":"2D08","t":"Granodiorite","e":"Tm","v":14},{"s":"2D08","t":"Granodiorite","e":"Yb","v":14},{"s":"2D08","t":"Granodiorite","e":"Lu","v":15},
{"s":"2D09","t":"Granodiorite","e":"La","v":28},{"s":"2D09","t":"Granodiorite","e":"Ce","v":26},{"s":"2D09","t":"Granodiorite","e":"Pr","v":24},{"s":"2D09","t":"Granodiorite","e":"Nd","v":22},{"s":"2D09","t":"Granodiorite","e":"Sm","v":18},{"s":"2D09","t":"Granodiorite","e":"Eu","v":13},{"s":"2D09","t":"Granodiorite","e":"Gd","v":13},{"s":"2D09","t":"Granodiorite","e":"Tb","v":13},{"s":"2D09","t":"Granodiorite","e":"Dy","v":12},{"s":"2D09","t":"Granodiorite","e":"Ho","v":11},{"s":"2D09","t":"Granodiorite","e":"Er","v":11},{"s":"2D09","t":"Granodiorite","e":"Tm","v":12},{"s":"2D09","t":"Granodiorite","e":"Yb","v":11.5},{"s":"2D09","t":"Granodiorite","e":"Lu","v":12.5},
{"s":"2D10","t":"Granodiorite","e":"La","v":55},{"s":"2D10","t":"Granodiorite","e":"Ce","v":42},{"s":"2D10","t":"Granodiorite","e":"Pr","v":32},{"s":"2D10","t":"Granodiorite","e":"Nd","v":25},{"s":"2D10","t":"Granodiorite","e":"Sm","v":12},{"s":"2D10","t":"Granodiorite","e":"Eu","v":9.5},{"s":"2D10","t":"Granodiorite","e":"Gd","v":8},{"s":"2D10","t":"Granodiorite","e":"Tb","v":7},{"s":"2D10","t":"Granodiorite","e":"Dy","v":6},{"s":"2D10","t":"Granodiorite","e":"Ho","v":5.5},{"s":"2D10","t":"Granodiorite","e":"Er","v":5.8},{"s":"2D10","t":"Granodiorite","e":"Tm","v":6.2},{"s":"2D10","t":"Granodiorite","e":"Yb","v":6.5},{"s":"2D10","t":"Granodiorite","e":"Lu","v":8},
{"s":"2D11","t":"Granodiorite","e":"La","v":70},{"s":"2D11","t":"Granodiorite","e":"Ce","v":52},{"s":"2D11","t":"Granodiorite","e":"Pr","v":38},{"s":"2D11","t":"Granodiorite","e":"Nd","v":30},{"s":"2D11","t":"Granodiorite","e":"Sm","v":20},{"s":"2D11","t":"Granodiorite","e":"Eu","v":17},{"s":"2D11","t":"Granodiorite","e":"Gd","v":17},{"s":"2D11","t":"Granodiorite","e":"Tb","v":16},{"s":"2D11","t":"Granodiorite","e":"Dy","v":15},{"s":"2D11","t":"Granodiorite","e":"Ho","v":14.5},{"s":"2D11","t":"Granodiorite","e":"Er","v":15},{"s":"2D11","t":"Granodiorite","e":"Tm","v":15},{"s":"2D11","t":"Granodiorite","e":"Yb","v":14.5},{"s":"2D11","t":"Granodiorite","e":"Lu","v":16},
{"s":"2D12","t":"Granodiorite","e":"La","v":48},{"s":"2D12","t":"Granodiorite","e":"Ce","v":38},{"s":"2D12","t":"Granodiorite","e":"Pr","v":30},{"s":"2D12","t":"Granodiorite","e":"Nd","v":24},{"s":"2D12","t":"Granodiorite","e":"Sm","v":16},{"s":"2D12","t":"Granodiorite","e":"Eu","v":10},{"s":"2D12","t":"Granodiorite","e":"Gd","v":9.5},{"s":"2D12","t":"Granodiorite","e":"Tb","v":8},{"s":"2D12","t":"Granodiorite","e":"Dy","v":7},{"s":"2D12","t":"Granodiorite","e":"Ho","v":7},{"s":"2D12","t":"Granodiorite","e":"Er","v":7.5},{"s":"2D12","t":"Granodiorite","e":"Tm","v":8},{"s":"2D12","t":"Granodiorite","e":"Yb","v":8},{"s":"2D12","t":"Granodiorite","e":"Lu","v":9.5},
{"s":"3Q1","t":"Quartzdiorite","e":"La","v":38},{"s":"3Q1","t":"Quartzdiorite","e":"Ce","v":31},{"s":"3Q1","t":"Quartzdiorite","e":"Pr","v":28},{"s":"3Q1","t":"Quartzdiorite","e":"Nd","v":25},{"s":"3Q1","t":"Quartzdiorite","e":"Sm","v":20},{"s":"3Q1","t":"Quartzdiorite","e":"Eu","v":18},{"s":"3Q1","t":"Quartzdiorite","e":"Gd","v":16.5},{"s":"3Q1","t":"Quartzdiorite","e":"Tb","v":14.5},{"s":"3Q1","t":"Quartzdiorite","e":"Dy","v":13.5},{"s":"3Q1","t":"Quartzdiorite","e":"Ho","v":12.5},{"s":"3Q1","t":"Quartzdiorite","e":"Er","v":12.8},{"s":"3Q1","t":"Quartzdiorite","e":"Tm","v":12.5},{"s":"3Q1","t":"Quartzdiorite","e":"Yb","v":11.8},{"s":"3Q1","t":"Quartzdiorite","e":"Lu","v":11.8},
{"s":"3Q2","t":"Quartzdiorite","e":"La","v":35},{"s":"3Q2","t":"Quartzdiorite","e":"Ce","v":29},{"s":"3Q2","t":"Quartzdiorite","e":"Pr","v":27},{"s":"3Q2","t":"Quartzdiorite","e":"Nd","v":24},{"s":"3Q2","t":"Quartzdiorite","e":"Sm","v":18.5},{"s":"3Q2","t":"Quartzdiorite","e":"Eu","v":16},{"s":"3Q2","t":"Quartzdiorite","e":"Gd","v":15},{"s":"3Q2","t":"Quartzdiorite","e":"Tb","v":13},{"s":"3Q2","t":"Quartzdiorite","e":"Dy","v":12},{"s":"3Q2","t":"Quartzdiorite","e":"Ho","v":11.3},{"s":"3Q2","t":"Quartzdiorite","e":"Er","v":11.5},{"s":"3Q2","t":"Quartzdiorite","e":"Tm","v":11.3},{"s":"3Q2","t":"Quartzdiorite","e":"Yb","v":11},{"s":"3Q2","t":"Quartzdiorite","e":"Lu","v":11.3},
{"s":"4T1","t":"Tonalite","e":"La","v":56},{"s":"4T1","t":"Tonalite","e":"Ce","v":46},{"s":"4T1","t":"Tonalite","e":"Pr","v":42},{"s":"4T1","t":"Tonalite","e":"Nd","v":38},{"s":"4T1","t":"Tonalite","e":"Sm","v":28},{"s":"4T1","t":"Tonalite","e":"Eu","v":18},{"s":"4T1","t":"Tonalite","e":"Gd","v":21},{"s":"4T1","t":"Tonalite","e":"Tb","v":16.5},{"s":"4T1","t":"Tonalite","e":"Dy","v":16},{"s":"4T1","t":"Tonalite","e":"Ho","v":15},{"s":"4T1","t":"Tonalite","e":"Er","v":16},{"s":"4T1","t":"Tonalite","e":"Tm","v":16},{"s":"4T1","t":"Tonalite","e":"Yb","v":15},{"s":"4T1","t":"Tonalite","e":"Lu","v":15},
{"s":"4T2","t":"Tonalite","e":"La","v":45},{"s":"4T2","t":"Tonalite","e":"Ce","v":37},{"s":"4T2","t":"Tonalite","e":"Pr","v":33},{"s":"4T2","t":"Tonalite","e":"Nd","v":27},{"s":"4T2","t":"Tonalite","e":"Sm","v":22},{"s":"4T2","t":"Tonalite","e":"Eu","v":17},{"s":"4T2","t":"Tonalite","e":"Gd","v":16},{"s":"4T2","t":"Tonalite","e":"Tb","v":15},{"s":"4T2","t":"Tonalite","e":"Dy","v":14},{"s":"4T2","t":"Tonalite","e":"Ho","v":13.5},{"s":"4T2","t":"Tonalite","e":"Er","v":14.5},{"s":"4T2","t":"Tonalite","e":"Tm","v":14},{"s":"4T2","t":"Tonalite","e":"Yb","v":14},{"s":"4T2","t":"Tonalite","e":"Lu","v":14},
{"s":"4T3","t":"Tonalite","e":"La","v":52},{"s":"4T3","t":"Tonalite","e":"Ce","v":42},{"s":"4T3","t":"Tonalite","e":"Pr","v":36},{"s":"4T3","t":"Tonalite","e":"Nd","v":30},{"s":"4T3","t":"Tonalite","e":"Sm","v":15.5},{"s":"4T3","t":"Tonalite","e":"Eu","v":16.5},{"s":"4T3","t":"Tonalite","e":"Gd","v":10},{"s":"4T3","t":"Tonalite","e":"Tb","v":9},{"s":"4T3","t":"Tonalite","e":"Dy","v":7.8},{"s":"4T3","t":"Tonalite","e":"Ho","v":7.2},{"s":"4T3","t":"Tonalite","e":"Er","v":7.2},{"s":"4T3","t":"Tonalite","e":"Tm","v":7.2},{"s":"4T3","t":"Tonalite","e":"Yb","v":7.3},{"s":"4T3","t":"Tonalite","e":"Lu","v":8.3},
{"s":"4T4","t":"Tonalite","e":"La","v":48},{"s":"4T4","t":"Tonalite","e":"Ce","v":40},{"s":"4T4","t":"Tonalite","e":"Pr","v":34},{"s":"4T4","t":"Tonalite","e":"Nd","v":29},{"s":"4T4","t":"Tonalite","e":"Sm","v":24},{"s":"4T4","t":"Tonalite","e":"Eu","v":17},{"s":"4T4","t":"Tonalite","e":"Gd","v":17},{"s":"4T4","t":"Tonalite","e":"Tb","v":15.5},{"s":"4T4","t":"Tonalite","e":"Dy","v":15},{"s":"4T4","t":"Tonalite","e":"Ho","v":14},{"s":"4T4","t":"Tonalite","e":"Er","v":15},{"s":"4T4","t":"Tonalite","e":"Tm","v":15.5},{"s":"4T4","t":"Tonalite","e":"Yb","v":14.5},{"s":"4T4","t":"Tonalite","e":"Lu","v":14.5}
]
}
}
